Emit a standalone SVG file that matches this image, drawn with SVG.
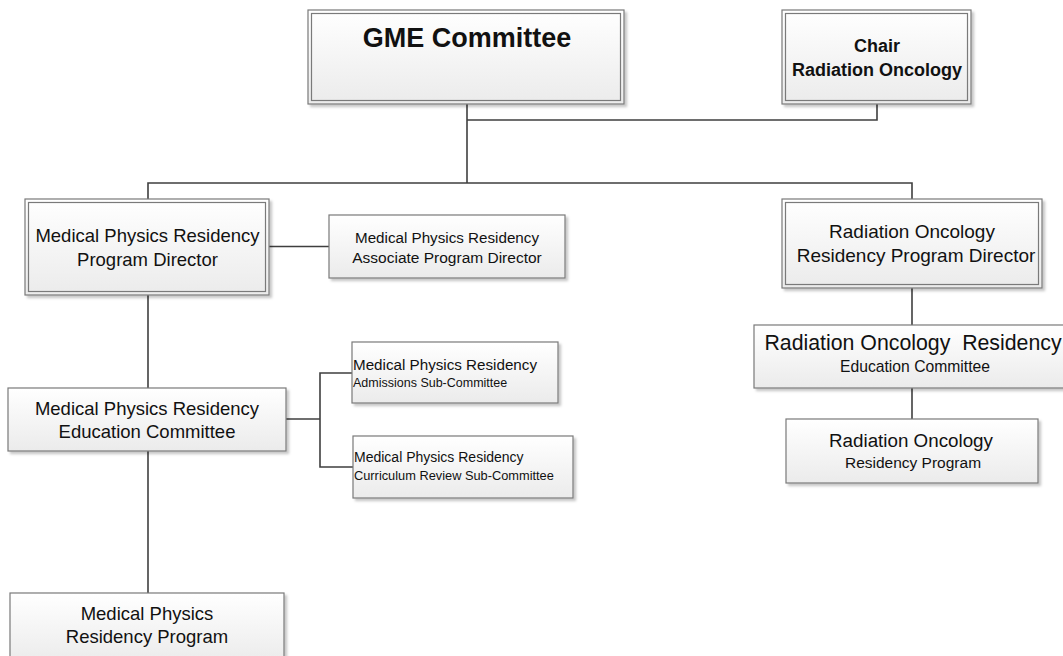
<svg xmlns="http://www.w3.org/2000/svg" width="1063" height="656" viewBox="0 0 1063 656">
<defs>
<linearGradient id="g" x1="0" y1="0" x2="0" y2="1">
<stop offset="0" stop-color="#ffffff"/>
<stop offset="1" stop-color="#ebebeb"/>
</linearGradient>
<filter id="sh" x="-10%" y="-10%" width="130%" height="130%">
<feDropShadow dx="2.5" dy="2.5" stdDeviation="1.2" flood-color="#000" flood-opacity="0.22"/>
</filter>
</defs>
<style>
.box{fill:url(#g);stroke:#7a7a7a;stroke-width:1.2;filter:url(#sh)}
.inner{fill:none;stroke:#7a7a7a;stroke-width:1.2}
.t{font-family:"Liberation Sans",Arial,sans-serif;fill:#111;text-anchor:middle}
.l{font-family:"Liberation Sans",Arial,sans-serif;fill:#111;text-anchor:start}
.b{font-weight:bold}
.conn{fill:none;stroke:#3f3f3f;stroke-width:1.6}
</style>
<rect width="1063" height="656" fill="#ffffff"/>
<g id="connectors" class="conn">
<path d="M467,104 V183"/>
<path d="M467,120 H877 V104"/>
<path d="M148,199 V183 H912 V199"/>
<path d="M269,246.5 H329"/>
<path d="M148,295 V388"/>
<path d="M148,451 V593"/>
<path d="M286,419 H320"/>
<path d="M352,373 H320 V467 H353"/>
<path d="M912,288 V325"/>
<path d="M912,388 V419"/>
</g>
<g id="gme">
<rect class="box" x="308" y="10" width="316" height="94"/>
<rect class="inner" x="311.5" y="13.5" width="309" height="87"/>
<text class="t b" x="467" y="47" font-size="27">GME Committee</text>
</g>
<g id="chair">
<rect class="box" x="782" y="10" width="189" height="94"/>
<rect class="inner" x="785.5" y="13.5" width="182" height="87"/>
<text class="t b" x="877" y="52" font-size="18">Chair</text>
<text class="t b" x="877" y="76" font-size="18">Radiation Oncology</text>
</g>
<g id="mp-pd">
<rect class="box" x="25" y="199" width="244" height="96"/>
<rect class="inner" x="28.5" y="202.5" width="237" height="89"/>
<text class="t" x="147.5" y="242" font-size="18.5">Medical Physics Residency</text>
<text class="t" x="147.5" y="266" font-size="18.5">Program Director</text>
</g>
<g id="mp-apd">
<rect class="box" x="329" y="215" width="236" height="63"/>
<text class="t" x="447" y="243" font-size="15.2">Medical Physics Residency</text>
<text class="t" x="447" y="263" font-size="15.5">Associate Program Director</text>
</g>
<g id="mp-edu">
<rect class="box" x="8" y="388" width="278" height="63"/>
<text class="t" x="147" y="415" font-size="18.5">Medical Physics Residency</text>
<text class="t" x="147" y="438" font-size="18.5">Education Committee</text>
</g>
<g id="mp-admissions">
<rect class="box" x="352" y="342" width="206" height="61"/>
<text class="l" x="353" y="370" font-size="15.2">Medical Physics Residency</text>
<text class="l" x="353" y="387" font-size="12.5">Admissions Sub-Committee</text>
</g>
<g id="mp-curriculum">
<rect class="box" x="353" y="436" width="220" height="62"/>
<text class="l" x="354" y="462" font-size="14">Medical Physics Residency</text>
<text class="l" x="354" y="480" font-size="12.8">Curriculum Review Sub-Committee</text>
</g>
<g id="mp-program">
<rect class="box" x="10" y="593" width="274" height="70"/>
<text class="t" x="147" y="620" font-size="18.5">Medical Physics</text>
<text class="t" x="147" y="643" font-size="18.5">Residency Program</text>
</g>
<g id="ro-pd">
<rect class="box" x="782" y="199" width="260" height="89"/>
<rect class="inner" x="785.5" y="202.5" width="253" height="82"/>
<text class="t" x="912" y="238" font-size="19">Radiation Oncology</text>
<text class="t" x="916" y="262" font-size="19">Residency Program Director</text>
</g>
<g id="ro-edu">
<rect class="box" x="754" y="325" width="318" height="63"/>
<text class="t" x="913" y="350" font-size="21.3" xml:space="preserve">Radiation Oncology  Residency</text>
<text class="t" x="915" y="372" font-size="15.7">Education Committee</text>
</g>
<g id="ro-program">
<rect class="box" x="786" y="419" width="252" height="64"/>
<text class="t" x="911" y="447" font-size="18.8">Radiation Oncology</text>
<text class="t" x="913" y="468" font-size="15.5">Residency Program</text>
</g>
</svg>
